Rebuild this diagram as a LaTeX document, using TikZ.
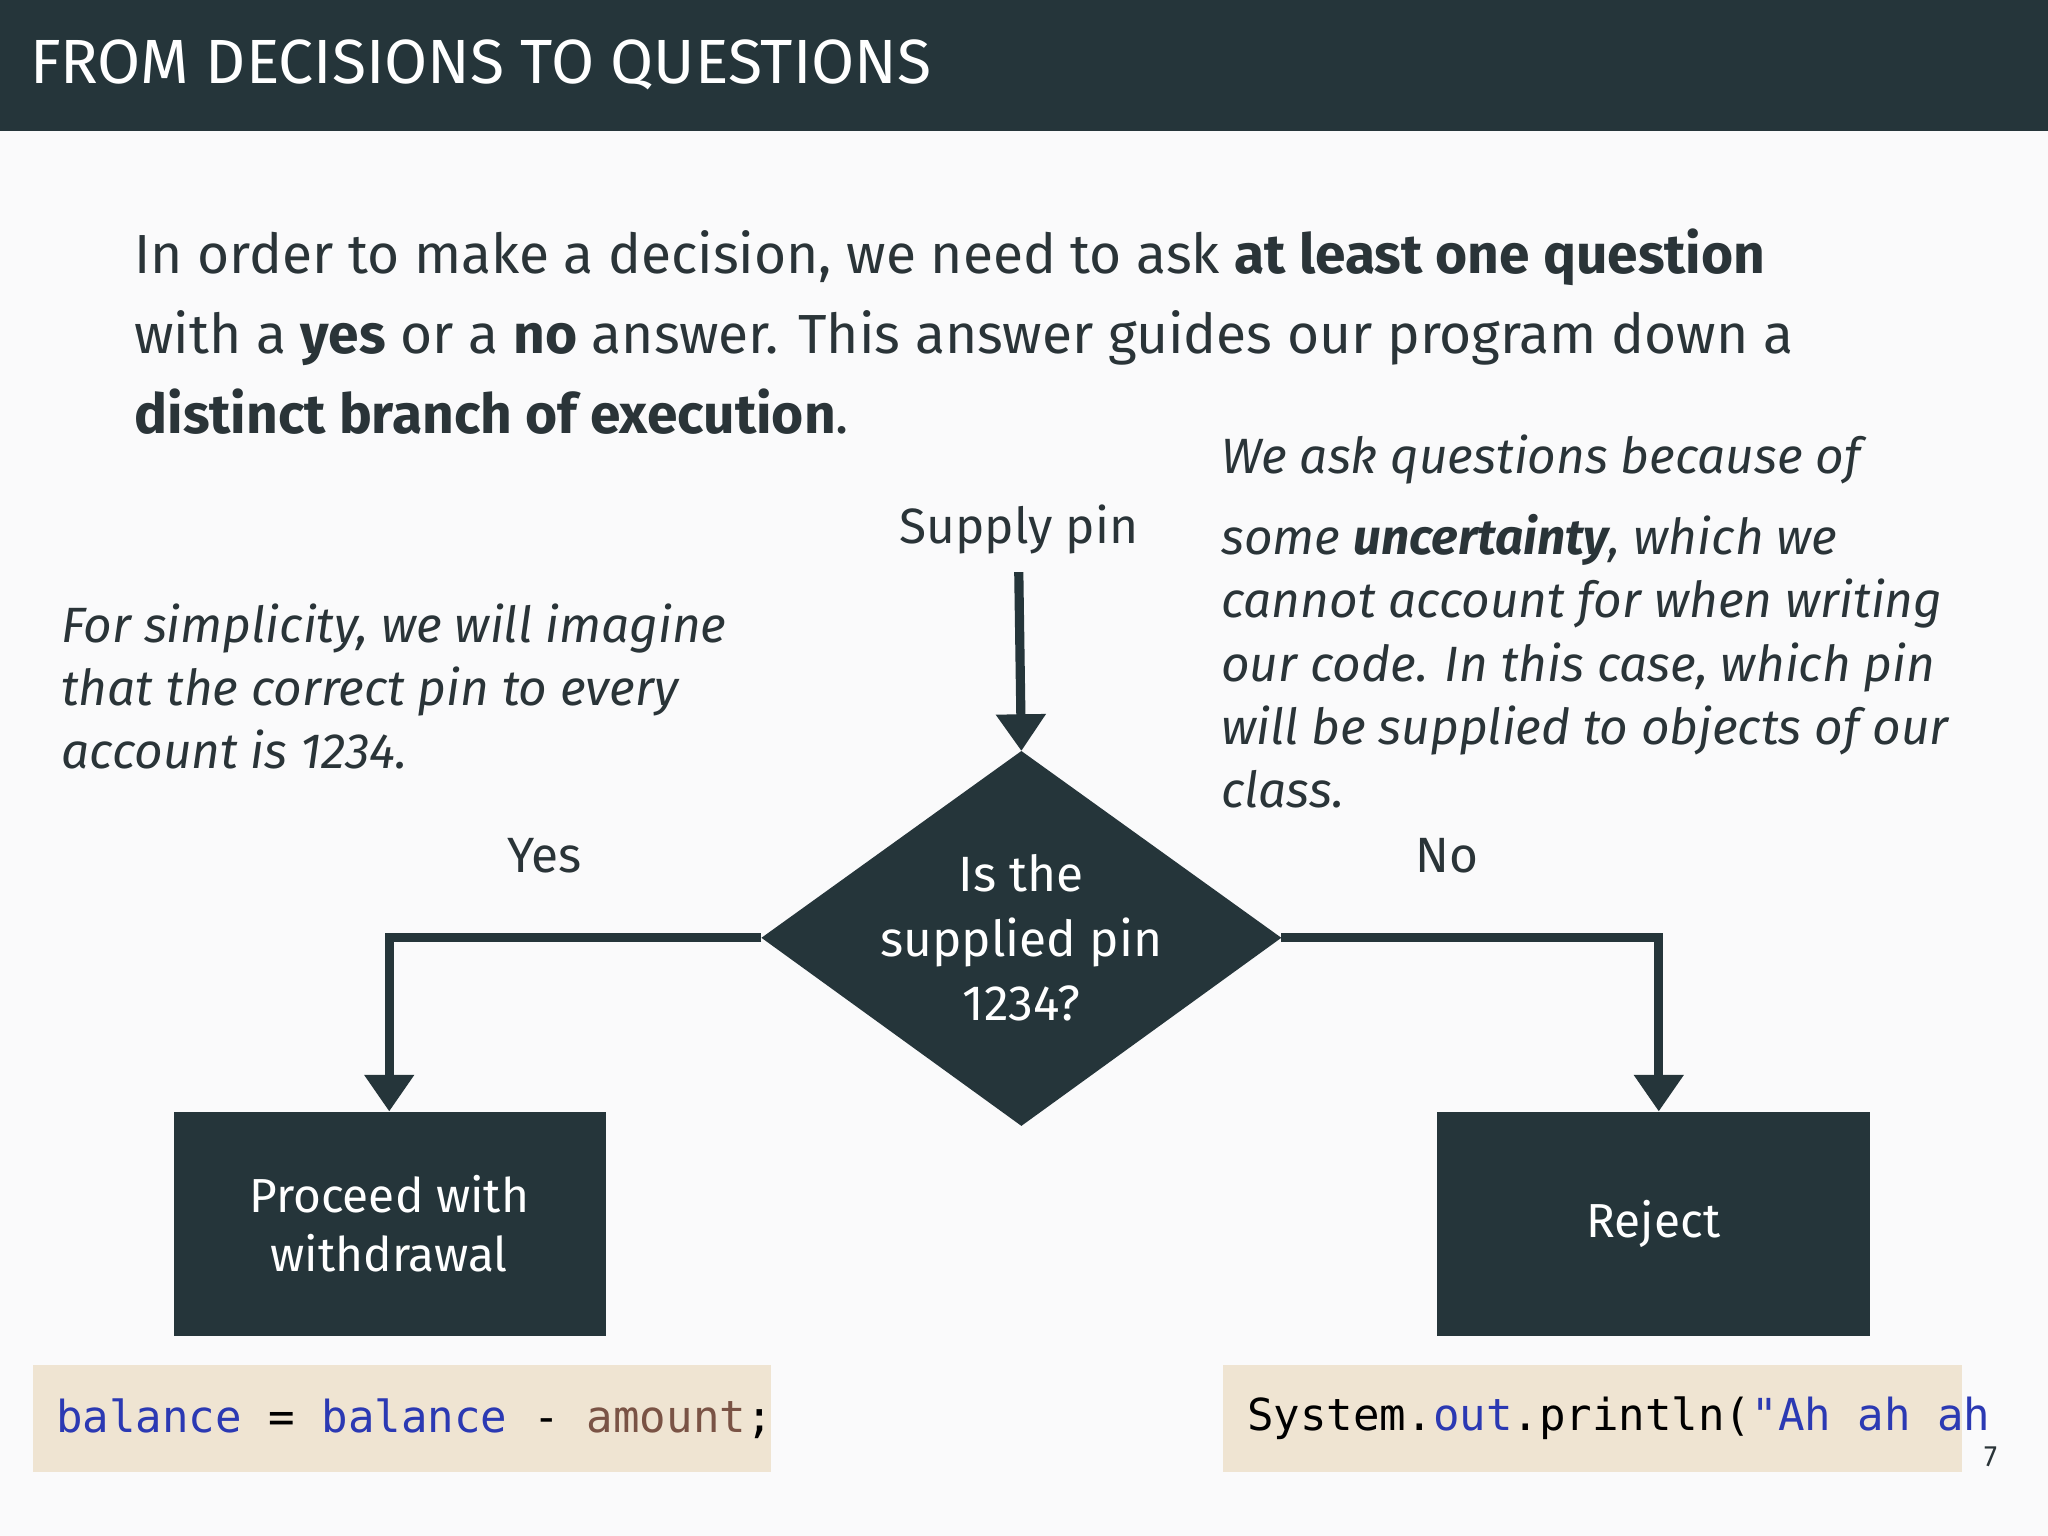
\documentclass[tikz,border=0pt]{standalone}
\usepackage{fontspec}
\setmainfont{Fira Sans}
\newfontfamily\codefont{DejaVu Sans Mono}
\usetikzlibrary{arrows.meta}
\definecolor{dk}{HTML}{25353A}
\definecolor{pg}{HTML}{FAFAFB}
\definecolor{cbg}{HTML}{EFE4D2}
\definecolor{cblue}{HTML}{2B39B3}
\definecolor{cbrown}{HTML}{7A5345}
\definecolor{txt}{HTML}{2A3438}
\begin{document}
\begin{tikzpicture}[x=0.025cm,y=-0.025cm,
  conn/.style={draw=dk,line width=5pt,-{Triangle[length=20pt,width=26pt]}},
  boxn/.style={fill=dk,text=white,align=center,font=\fontsize{26}{32}\selectfont},
  lab/.style={text=txt,font=\fontsize{27}{32}\selectfont},
  side/.style={text=txt,font=\fontsize{27}{34.5}\selectfont\itshape,align=left,anchor=north west},
  code/.style={fill=cbg,anchor=west,font=\fontsize{24}{28}\selectfont\codefont}]
\fill[pg] (0,0) rectangle (1568,1176);
\useasboundingbox (0,0) rectangle (1568,1176);
\fill[dk] (0,0) rectangle (1568,100);
\node[anchor=west,text=white,font=\fontsize{34}{40}\selectfont] (title) at (18,50) {FROM DECISIONS TO QUESTIONS};
\node[anchor=north west,text=txt,align=left,font=\fontsize{30}{43.5}\selectfont] (para) at (98,170)
 {In order to make a decision, we need to ask \textbf{at least one question}\\
  with a \textbf{yes} or a \textbf{no} answer. This answer guides our program down a\\
  \textbf{distinct branch of execution}.};
\node[side] (lt) at (42,457) {For simplicity, we will imagine\\that the correct pin to every\\account is 1234.};
\node[anchor=north west,text=txt,font=\fontsize{27}{34.5}\selectfont\itshape,align=left] (rt) at (930,328)
 {We ask questions because of\\[0.35em]some \textbf{uncertainty}, which we\\cannot account for when writing\\our code. In this case, which pin\\will be supplied to objects of our\\class.};
\node[lab] (sup) at (780,405) {Supply pin};
\coordinate (st) at (780,438);
\coordinate (dT) at (782,575);
\coordinate (dB) at (782,862);
\coordinate (dL) at (583,718);
\coordinate (dR) at (981,718);
\fill[dk] (dT) -- (dR) -- (dB) -- (dL) -- cycle;
\node[text=white,align=center,font=\fontsize{27}{35}\selectfont] (q) at (782,718) {Is the\\supplied pin\\1234?};
\node[lab] (yes) at (417,655) {Yes};
\node[lab] (no) at (1108,655) {No};
\node[boxn,minimum width=331\pgflinewidth] (pw) at (298,937) {};
\fill[dk] (133,851) rectangle (464,1023);
\fill[dk] (1100,851) rectangle (1432,1023);
\node[boxn,fill=none] (proc) at (298,937) {Proceed with\\withdrawal};
\node[boxn,fill=none] (rej) at (1266,937) {Reject};
\coordinate (pt) at (298,851);
\coordinate (rtp) at (1270,851);
\draw[conn] (st) -- (dT);
\draw[conn] (dL) -- (298,718) -- (pt);
\draw[conn] (dR) -- (1270,718) -- (rtp);
\fill[cbg] (25,1045) rectangle (590,1127);
\fill[cbg] (936,1045) rectangle (1502,1127);
\node[anchor=west,font=\fontsize{24}{28}\selectfont\codefont] (c1) at (38,1086)
 {\textcolor{cblue}{balance} = \textcolor{cblue}{balance} - \textcolor{cbrown}{amount};};
\node[anchor=west,font=\fontsize{24}{28}\selectfont\codefont] (c2) at (950,1086)
 {System.\textcolor{cblue}{out}.println(\textcolor{cblue}{"Ah ah ah}};
\node[text=txt,font=\fontsize{16}{18}\selectfont] (pn) at (1524,1115) {7};
\end{tikzpicture}
\end{document}
